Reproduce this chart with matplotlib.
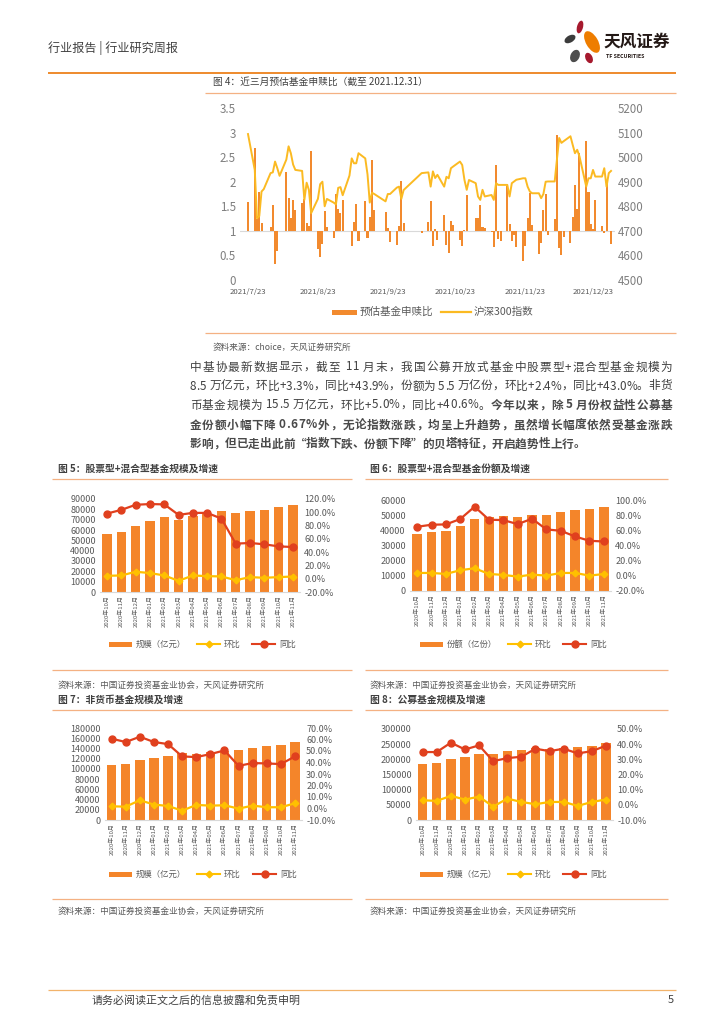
import matplotlib
matplotlib.use('Agg')
import matplotlib.pyplot as plt
import matplotlib.dates as mdates
from matplotlib.patches import Ellipse, Rectangle
from matplotlib.font_manager import FontProperties
import numpy as np
import pandas as pd

FAM = ['Noto Sans CJK SC', 'DejaVu Sans']
plt.rcParams['font.family'] = FAM
plt.rcParams['axes.unicode_minus'] = False

# ---------------- Figure 4 data ----------------
holidays = ['2021-09-20', '2021-09-21', '2021-10-01', '2021-10-04',
            '2021-10-05', '2021-10-06', '2021-10-07']
trade_days = [d for d in pd.bdate_range('2021-07-23', '2021-12-31')
              if d.strftime('%Y-%m-%d') not in holidays]

ratio = [
    1.58, 2.68, 1.25, 1.79, 1.16, 1.00,
    1.08, 1.52, 0.33, 0.59, 0.99, 2.19, 1.66, 1.27, 1.63, 1.42,
    1.56, 1.65, 1.17, 1.09, 2.62, 0.63, 0.47, 0.74, 1.40, 1.07, 0.85, 1.74,
    1.45, 1.36, 1.63, 0.99, 0.69, 1.19, 1.54, 0.80, 1.60, 0.85, 1.28, 2.44, 1.42,
    1.38, 1.05, 0.77, 0.72, 1.09, 2.01, 1.17,
    0.96, 1.19, 1.60, 0.70, 1.04, 0.82, 1.33, 0.72, 0.55, 1.20, 1.11,
    0.82, 0.70, 1.01, 1.73, 1.00,
    1.27, 1.27, 1.52, 1.07, 1.05, 0.98, 0.67, 2.33, 0.84, 0.80,
    1.91, 1.14, 0.79, 0.91, 0.67, 0.38, 0.70, 1.26, 1.77, 1.11, 0.53, 0.75,
    1.42, 1.75, 0.92, 1.25, 2.96, 0.65, 0.51, 0.88, 0.75, 1.28, 1.93, 1.44, 2.58,
    2.82, 1.79, 1.13, 1.03, 1.62, 1.09, 0.96, 1.96, 0.99, 0.74]

csi300 = [
    5094, 4948, 4751, 4760, 4860, 4870,
    4935, 4938, 4982, 4955, 4924, 4990, 5044, 5016, 4970, 4948,
    4944, 4826, 4896, 4867, 4772, 4830, 4890, 4900, 4800, 4830, 4815, 4808,
    4875, 4878, 4845, 4925, 4995, 4975, 4975, 5016, 4995, 4930, 4815, 4855, 4850,
    4820, 4850, 4850, 4876, 4880, 4830, 4866,
    4935, 4938, 4880, 4942, 4915, 4928, 4880, 4920, 4914, 4955, 4962,
    4982, 4968, 4907, 4867, 4907,
    4894, 4840, 4826, 4867, 4840, 4846, 4826, 4894, 4887, 4887,
    4887, 4840, 4894, 4901, 4908, 4914, 4914, 4880, 4860, 4853, 4853, 4833,
    4850, 4900, 4901, 4901, 4990, 5078, 5058, 5065, 5085, 5050, 5016, 5030, 5003,
    4880, 4914, 4914, 4948, 4921, 4921, 4955, 4880, 4935, 4944]

tick_dates4 = ['2021-07-23', '2021-08-23', '2021-09-23', '2021-10-23', '2021-11-23', '2021-12-23']
tick_labels4 = ['2021/7/23', '2021/8/23', '2021/9/23', '2021/10/23', '2021/11/23', '2021/12/23']

# ---------------- Figures 5-8 data ----------------
months = ['2020年10月', '2020年11月', '2020年12月', '2021年01月', '2021年02月', '2021年03月',
          '2021年04月', '2021年05月', '2021年06月', '2021年07月', '2021年08月', '2021年09月',
          '2021年10月', '2021年11月']

c5_scale = [55900, 58500, 63700, 68900, 72500, 69200, 73100, 75500, 78300, 76400, 78600, 79600, 81900, 84500]
c5_mom = [4.4, 4.9, 10.5, 8.5, 4.9, -3.2, 4.9, 3.9, 3.4, -2.2, 2.4, 1.4, 2.4, 3.3]
c5_yoy = [98.1, 103.7, 111.3, 112.4, 111.9, 96.1, 99.1, 99.1, 90.5, 52.8, 53.8, 51.8, 48.7, 47.7]

c6_share = [37300, 38800, 39700, 42800, 47200, 48900, 49400, 49000, 49800, 50100, 51800, 53600, 54000, 55600]
c6_mom = [3.8, 3.8, 2.5, 7.4, 10.0, 2.5, 1.2, -1.0, 1.6, 0.3, 3.8, 3.8, 0.3, 2.4]
c6_yoy = [64.7, 67.4, 67.8, 74.9, 91.2, 74.0, 73.5, 68.2, 75.3, 61.2, 59.4, 51.9, 46.2, 45.3]

c7_scale = [106700, 109300, 117200, 121800, 125700, 130500, 129600, 132200, 134800, 137500, 141400, 144000, 146600, 153500]
c7_mom = [1.9, 1.6, 7.2, 3.4, 2.2, -1.9, 3.1, 2.5, 2.8, -0.1, 2.5, 1.1, 1.1, 4.5]
c7_yoy = [60.7, 57.8, 62.4, 57.8, 56.0, 45.3, 44.7, 47.3, 50.5, 37.1, 39.5, 39.2, 38.6, 45.3]

c8_scale = [184200, 187500, 199600, 206300, 218400, 216200, 226100, 230500, 237100, 233800, 237100, 240400, 244900, 253700]
c8_mom = [3.0, 2.6, 5.9, 3.5, 5.4, -1.2, 4.1, 1.9, 0.4, 1.9, 1.9, -0.7, 1.9, 3.5]
c8_yoy = [34.8, 34.8, 41.0, 36.5, 39.2, 28.8, 30.8, 31.7, 37.0, 35.4, 37.0, 33.9, 35.4, 39.0]

# ---------------- styles ----------------
BAR = '#F4852A'
BAR4 = '#F28A2E'
LINE4 = '#FBBA22'
YEL = '#FFC000'
RED = '#E0401E'
GRAY = '#595959'
LGRAY = '#7F7F7F'
TXT = '#404040'
LOR = '#F4B183'

W, H = 724, 1024
fig = plt.figure(figsize=(W / 100, H / 100), dpi=100)
bg = fig.add_axes([0, 0, 1, 1])
bg.set_xlim(0, W)
bg.set_ylim(H, 0)
bg.axis('off')


def add_ax(x0, y0, x1, y1):
    return fig.add_axes([x0 / W, 1 - y1 / H, (x1 - x0) / W, (y1 - y0) / H])


def hline(y, x0, x1, color=LOR, lw=0.9):
    bg.plot([x0, x1], [y, y], color=color, lw=lw, solid_capstyle='butt')


# ---------------- header ----------------
bg.text(48, 48, '行业报告 | 行业研究周报', fontsize=8.7, color=TXT, va='center', ha='left')
hline(73, 48, 676, color='#EE8A2C', lw=1.4)
# logo petals
for (cx, cy, w, h, ang, col) in [
        (580, 27, 6, 13, 15, '#A6192E'),
        (570, 39, 7, 12, 60, '#3C3C3C'),
        (592, 42, 12, 24, -30, '#EE7D00'),
        (575, 56, 9, 13, 25, '#4D4D4D'),
        (589, 58, 7, 11, -25, '#A6192E')]:
    bg.add_patch(Ellipse((cx, cy), w, h, angle=ang, color=col, lw=0))
bg.text(603, 42, '天风证券', fontsize=12, fontweight='bold', color='#231815', va='center', ha='left')
bg.text(606, 57, 'TF SECURITIES', fontsize=3.8, fontweight='bold', color='#231815', va='center', ha='left')

# ---------------- Figure 4 ----------------
bg.text(213, 82, '图 4：近三月预估基金申赎比（截至 2021.12.31）', fontsize=7, color=TXT, va='center', ha='left')
hline(93, 205, 676)

ax4 = add_ax(240, 108, 615, 280)
x4 = mdates.date2num(trade_days)
ax4.bar(x4, np.array(ratio) - 1, bottom=1, width=0.9, color=BAR4, zorder=2)
d0 = mdates.date2num(pd.Timestamp('2021-07-23'))
ppd = (593 - 248) / 153.0
ax4.set_xlim(d0 - (248 - 240) / ppd, d0 + 153 + (615 - 593) / ppd)
ax4.set_ylim(0, 3.5)
ax4.set_yticks(np.arange(0, 3.51, 0.5))
ax4.set_yticklabels(['0', '0.5', '1', '1.5', '2', '2.5', '3', '3.5'])
ax4.axhline(1, color='#D9D9D9', lw=0.8, zorder=1)
ax4.set_xticks(mdates.date2num(pd.to_datetime(tick_dates4)))
ax4.set_xticklabels(tick_labels4)
ax4.tick_params(axis='y', length=0, pad=3, labelsize=8.3, labelcolor=LGRAY)
ax4.tick_params(axis='x', length=0, pad=5.5, labelsize=5.6, labelcolor=GRAY)
for s in ax4.spines.values():
    s.set_visible(False)
ax4b = ax4.twinx()
ax4b.plot(x4, csi300, color=LINE4, lw=1.4)
ax4b.set_ylim(4500, 5200)
ax4b.set_yticks(np.arange(4500, 5201, 100))
ax4b.tick_params(axis='y', length=0, pad=2, labelsize=8.3, labelcolor=LGRAY)
for s in ax4b.spines.values():
    s.set_visible(False)
ax4b.set_xlim(ax4.get_xlim())

# legend fig 4
bg.add_patch(Rectangle((332, 309.5), 25, 5, color=BAR4, lw=0))
bg.text(360, 312, '预估基金申赎比', fontsize=7.6, color=GRAY, va='center', ha='left')
bg.plot([441, 471], [312, 312], color=LINE4, lw=1.6)
bg.text(474, 312, '沪深300指数', fontsize=7.6, color=GRAY, va='center', ha='left')

hline(333, 205, 676)
bg.text(213, 347, '资料来源：choice，天风证券研究所', fontsize=6.2, color=GRAY, va='center', ha='left')

# ---------------- lower combo charts ----------------

def combo(box, vals, mom, yoy, lmax, lstep, rmin, rmax, rstep):
    ax = add_ax(*box)
    x = np.arange(len(months))
    ax.bar(x, vals, width=0.66, color=BAR, zorder=2)
    ax.set_xlim(-0.5, len(months) - 0.5)
    ax.set_ylim(0, lmax)
    ax.set_yticks(np.arange(0, lmax + 1, lstep))
    ax.set_yticklabels([str(int(v)) for v in np.arange(0, lmax + 1, lstep)])
    ax.set_xticks(x)
    ax.set_xticklabels(months, rotation=90)
    ax.tick_params(axis='x', length=0, pad=2, labelsize=4.3, labelcolor=GRAY)
    ax.tick_params(axis='y', length=0, pad=3, labelsize=6.5, labelcolor=GRAY)
    for s in ['top', 'right', 'left']:
        ax.spines[s].set_visible(False)
    ax.spines['bottom'].set_color('#D9D9D9')
    ax.spines['bottom'].set_linewidth(0.8)
    ax2 = ax.twinx()
    ax2.plot(x, mom, color=YEL, marker='D', ms=3.4, lw=1.6, zorder=3)
    ax2.plot(x, yoy, color=RED, marker='o', ms=5.0, lw=1.6, zorder=4)
    ax2.set_ylim(rmin, rmax)
    rt = np.arange(rmin, rmax + 0.01, rstep)
    ax2.set_yticks(rt)
    ax2.set_yticklabels(['%.1f%%' % v for v in rt])
    ax2.tick_params(axis='y', length=0, pad=3, labelsize=6.5, labelcolor=GRAY)
    for s in ax2.spines.values():
        s.set_visible(False)
    ax2.set_xlim(ax.get_xlim())
    return ax


def legend3(y, xb, xy, xr, label):
    bg.add_patch(Rectangle((xb, y - 2.5), 23, 5, color=BAR, lw=0))
    bg.text(xb + 27, y, label, fontsize=6, color=GRAY, va='center', ha='left')
    bg.plot([xy, xy + 23], [y, y], color=YEL, lw=1.5)
    bg.plot([xy + 11.5], [y], color=YEL, marker='D', ms=3.4)
    bg.text(xy + 27, y, '环比', fontsize=6, color=GRAY, va='center', ha='left')
    bg.plot([xr, xr + 23], [y, y], color=RED, lw=1.5)
    bg.plot([xr + 11.5], [y], color=RED, marker='o', ms=5)
    bg.text(xr + 27, y, '同比', fontsize=6, color=GRAY, va='center', ha='left')


# titles row 1
bg.text(58, 469, '图 5：股票型+混合型基金规模及增速', fontsize=7, fontweight='bold', color=TXT, va='center', ha='left')
bg.text(370, 469, '图 6：股票型+混合型基金份额及增速', fontsize=7, fontweight='bold', color=TXT, va='center', ha='left')
hline(479, 52, 352)
hline(479, 365, 668)

combo((100, 499, 300, 592), c5_scale, c5_mom, c5_yoy, 90000, 10000, -20, 120, 20)
combo((410, 500, 611, 591), c6_share, c6_mom, c6_yoy, 60000, 10000, -20, 100, 20)
legend3(644, 109, 197, 252, '规模（亿元）')
legend3(644, 420, 508, 563, '份额（亿份）')

hline(670, 52, 352)
hline(670, 365, 668)
bg.text(58, 685, '资料来源：中国证券投资基金业协会，天风证券研究所', fontsize=6.2, color=GRAY, va='center', ha='left')
bg.text(370, 685, '资料来源：中国证券投资基金业协会，天风证券研究所', fontsize=6.2, color=GRAY, va='center', ha='left')

# titles row 2
bg.text(58, 700, '图 7：非货币基金规模及增速', fontsize=7, fontweight='bold', color=TXT, va='center', ha='left')
bg.text(370, 700, '图 8：公募基金规模及增速', fontsize=7, fontweight='bold', color=TXT, va='center', ha='left')
hline(710, 52, 352)
hline(710, 365, 668)

combo((104.6, 728, 302, 820), c7_scale, c7_mom, c7_yoy, 180000, 20000, -10, 70, 10)
combo((415.6, 729, 613, 820), c8_scale, c8_mom, c8_yoy, 300000, 50000, -10, 50, 10)
legend3(874, 109, 197, 253, '规模（亿元）')
legend3(874, 420, 508, 563, '规模（亿元）')

hline(899, 52, 352)
hline(899, 365, 668)
bg.text(58, 911, '资料来源：中国证券投资基金业协会，天风证券研究所', fontsize=6.2, color=GRAY, va='center', ha='left')
bg.text(370, 911, '资料来源：中国证券投资基金业协会，天风证券研究所', fontsize=6.2, color=GRAY, va='center', ha='left')

# footer
hline(990, 48, 676, color='#F2B36B', lw=0.9)
bg.text(92, 1000, '请务必阅读正文之后的信息披露和免责申明', fontsize=7.9, color=TXT, va='center', ha='left')
bg.text(668, 1000, '5', fontsize=7.9, color=TXT, va='center', ha='left')

# ---------------- paragraph (justified) ----------------
para = [
    [('中基协最新数据显示，截至 11 月末，我国公募开放式基金中股票型+混合型基金规模为', 'normal')],
    [('8.5 万亿元，环比+3.3%，同比+43.9%，份额为 5.5 万亿份，环比+2.4%，同比+43.0%。非货', 'normal')],
    [('币基金规模为 15.5 万亿元，环比+5.0%，同比+40.6%。', 'normal'), ('今年以来，除 5 月份权益性公募基', 'bold')],
    [('金份额小幅下降 0.67%外，无论指数涨跌，均呈上升趋势，虽然增长幅度依然受基金涨跌', 'bold')],
    [('影响，但已走出此前“指数下跌、份额下降”的贝塔特征，开启趋势性上行。', 'bold')],
]
para_y = [367, 386, 405, 425, 444]
renderer = fig.canvas.get_renderer()
PSIZE = 8.4


def adv(ch, weight):
    fp = FontProperties(family=FAM, size=PSIZE, weight=weight)
    w1 = renderer.get_text_width_height_descent(ch + '中', fp, ismath=False)[0]
    w2 = renderer.get_text_width_height_descent('中', fp, ismath=False)[0]
    return max(w1 - w2, 0)


for i, (segs, y) in enumerate(zip(para, para_y)):
    chars = [(ch, wt) for (t, wt) in segs for ch in t]
    widths = [adv(ch, wt) for ch, wt in chars]
    total = sum(widths)
    last = (i == len(para) - 1)
    extra = 0 if last else (672 - 190 - total) / (len(chars) - 1)
    x = 190
    for (ch, wt), wd in zip(chars, widths):
        if ch != ' ':
            col = TXT if wt == 'normal' else '#4A4A4A'
            bg.text(x, y, ch, fontsize=PSIZE, fontweight=wt, color=col, va='center', ha='left')
        x += wd + extra

fig.savefig('out.png', dpi=100)
